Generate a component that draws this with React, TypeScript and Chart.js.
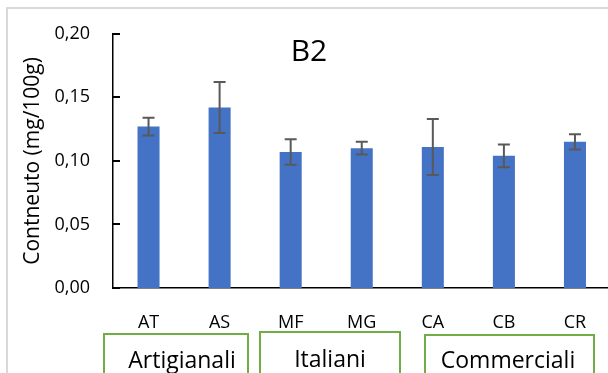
import { useEffect, useRef } from "react";
import { Chart, registerables } from "chart.js";

Chart.register(...registerables);

// Riboflavin (B2) content per sample
const categories = ["AT", "AS", "MF", "MG", "CA", "CB", "CR"];
const values = [0.127, 0.142, 0.107, 0.11, 0.111, 0.104, 0.115];
const errors = [0.007, 0.02, 0.01, 0.005, 0.022, 0.009, 0.006];
const yTickValues = [0, 0.05, 0.1, 0.15, 0.2];
const groupNames = ["Artigianali", "Italiani", "Commerciali"];
const chartTitle = "B2";
const yAxisTitle = "Contneuto (mg/100g)";

// Layout of the group label boxes under the axis (pixels)
const groupBoxes = [
  { left: 104, right: 248, top: 334, textX: 182, baseline: 368 },
  { left: 260, right: 400, top: 332, textX: 330, baseline: 367 },
  { left: 425, right: 594, top: 335, textX: 508, baseline: 368 },
];

const FONT = "'Open Sans', sans-serif";
const CANVAS_W = 640;
const CANVAS_H = 373;

const fmt = (v: number) => v.toFixed(2).replace(".", ",");

const decorations = {
  id: "decorations",
  beforeDraw(chart: any) {
    const { ctx } = chart;
    ctx.save();
    ctx.fillStyle = "#ffffff";
    ctx.fillRect(0, 0, chart.width, chart.height);
    // outer frame
    ctx.strokeStyle = "#d9d9d9";
    ctx.lineWidth = 2;
    ctx.beginPath();
    ctx.moveTo(7, CANVAS_H + 5);
    ctx.lineTo(7, 8);
    ctx.lineTo(CANVAS_W, 8);
    ctx.stroke();
    ctx.restore();
  },
  afterDatasetsDraw(chart: any) {
    const { ctx } = chart;
    const y = chart.scales.y;
    const meta = chart.getDatasetMeta(0);
    ctx.save();
    ctx.strokeStyle = "#595959";
    ctx.lineWidth = 2;
    meta.data.forEach((bar: any, i: number) => {
      const x = bar.x;
      const top = y.getPixelForValue(values[i] + errors[i]);
      const bot = y.getPixelForValue(values[i] - errors[i]);
      ctx.beginPath();
      ctx.moveTo(x, top);
      ctx.lineTo(x, bot);
      ctx.moveTo(x - 6, top);
      ctx.lineTo(x + 6, top);
      ctx.moveTo(x - 6, bot);
      ctx.lineTo(x + 6, bot);
      ctx.stroke();
    });
    ctx.restore();
  },
  afterDraw(chart: any) {
    const { ctx, chartArea } = chart;
    const y = chart.scales.y;
    ctx.save();
    // inward tick marks on the value axis
    ctx.strokeStyle = "#000000";
    ctx.lineWidth = 2;
    y.ticks.forEach((t: any) => {
      const py = Math.round(y.getPixelForValue(t.value));
      ctx.beginPath();
      ctx.moveTo(chartArea.left, py);
      ctx.lineTo(chartArea.left + 7, py);
      ctx.stroke();
    });
    // chart title
    ctx.fillStyle = "#000000";
    ctx.font = `30px ${FONT}`;
    ctx.textAlign = "center";
    ctx.textBaseline = "middle";
    ctx.fillText(chartTitle, 309, 52);
    // group label boxes
    ctx.strokeStyle = "#70ad47";
    ctx.lineWidth = 2;
    ctx.font = `23px ${FONT}`;
    ctx.textBaseline = "alphabetic";
    groupNames.forEach((name, i) => {
      const b = groupBoxes[i];
      ctx.beginPath();
      ctx.moveTo(b.left, CANVAS_H + 5);
      ctx.lineTo(b.left, b.top);
      ctx.lineTo(b.right, b.top);
      ctx.lineTo(b.right, CANVAS_H + 5);
      ctx.stroke();
      ctx.fillText(name, b.textX, b.baseline);
    });
    ctx.restore();
  },
};

export default function App() {
  const canvasRef = useRef<HTMLCanvasElement | null>(null);

  useEffect(() => {
    if (!canvasRef.current) return;
    const chart = new Chart(canvasRef.current, {
      type: "bar",
      data: {
        labels: categories,
        datasets: [
          {
            data: values,
            backgroundColor: "#4472c4",
            barPercentage: 0.31,
            categoryPercentage: 1,
          },
        ],
      },
      options: {
        responsive: false,
        animation: false,
        devicePixelRatio: 1,
        layout: { padding: { top: 27, right: CANVAS_W - 610.5, bottom: 0, left: 0 } },
        plugins: {
          legend: { display: false },
          tooltip: { enabled: false },
          title: { display: false },
        },
        scales: {
          x: {
            grid: { display: false, drawTicks: false },
            border: { display: true, color: "#000000", width: 1.5 },
            ticks: {
              color: "#000000",
              font: { family: FONT, size: 18 },
              padding: 24,
              maxRotation: 0,
              autoSkip: false,
            },
            afterFit: (s: any) => {
              s.height = 85;
            },
          },
          y: {
            min: 0,
            max: 0.2,
            grid: { display: false, drawTicks: false },
            border: { display: true, color: "#000000", width: 1.5 },
            afterBuildTicks: (s: any) => {
              s.ticks = yTickValues.map((v) => ({ value: v }));
            },
            ticks: {
              color: "#000000",
              font: { family: FONT, size: 18 },
              padding: 23,
              callback: (v: any) => fmt(Number(v)),
            },
            title: {
              display: true,
              text: yAxisTitle,
              color: "#000000",
              font: { family: FONT, size: 21 },
              padding: { top: 20, bottom: 0 },
            },
            afterFit: (s: any) => {
              s.width = 113;
            },
          },
        },
      },
      plugins: [decorations],
    });
    return () => chart.destroy();
  }, []);

  return (
    <div
      style={{
        position: "fixed",
        left: 0,
        top: 0,
        width: 608,
        height: 373,
        overflow: "hidden",
        background: "#ffffff",
      }}
    >
      <canvas
        ref={canvasRef}
        width={CANVAS_W}
        height={CANVAS_H}
        style={{ display: "block", width: CANVAS_W, height: CANVAS_H }}
      />
    </div>
  );
}
